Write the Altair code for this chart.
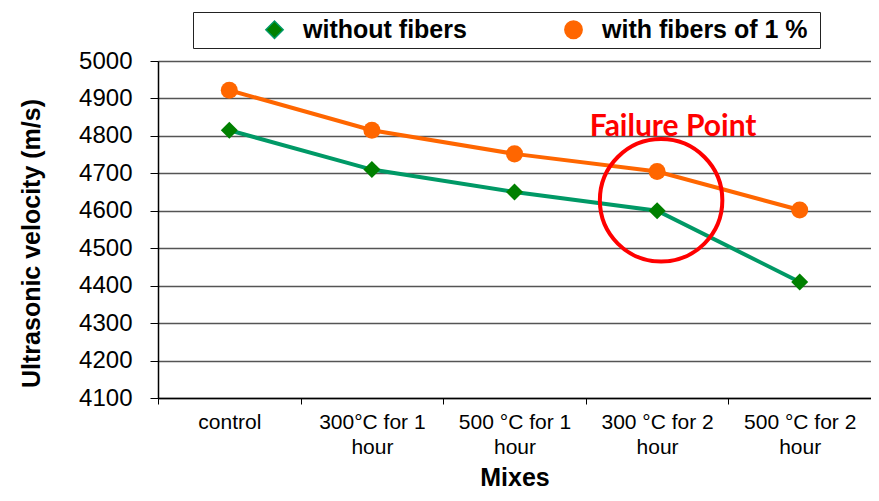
import altair as alt
import pandas as pd

# ---- data ----
categories = ["control", "300°C  for 1\nhour", "500 °C  for 1\nhour",
              "300 °C for 2\nhour", "500 °C  for 2\nhour"]
series = ["without fibers", "with fibers  of 1 %"]
without_fibers = [4815, 4710, 4650, 4600, 4410]
with_fibers = [4922, 4815, 4752, 4705, 4602]
y_ticks = [4100, 4200, 4300, 4400, 4500, 4600, 4700, 4800, 4900, 5000]

line_colors = ["#009966", "#FF6600"]
marker_colors = ["#008000", "#FF6600"]
marker_shapes = ["diamond", "circle"]

annot_x = ["300 °C for 2\nhour"]
annot_circle_y = [4628]
annot_text_y = [4800]
annot_text = ["Failure Point"]

rows = []
for name, vals in zip(series, [without_fibers, with_fibers]):
    for c, v in zip(categories, vals):
        rows.append({"mix": c, "velocity": v, "series": name})
df = pd.DataFrame(rows)
circle_df = pd.DataFrame({"mix": annot_x, "velocity": annot_circle_y})
text_df = pd.DataFrame({"mix": annot_x, "velocity": annot_text_y, "label": annot_text})

FONT = "Liberation Sans"

x_enc = alt.X(
    "mix:N",
    bandPosition=0.5,
    scale=alt.Scale(type="band", domain=categories, paddingInner=0, paddingOuter=0),
    axis=alt.Axis(
        title="Mixes", labelAngle=0, tickBand="extent", grid=False,
        labelExpr="split(datum.label, '\\n')",
        labelFont=FONT, labelFontSize=21, labelLineHeight=25,
        labelPadding=7, labelColor="black", labelLimit=300,
        tickSize=6, tickColor="black", tickWidth=1,
        domainColor="black", domainWidth=1.5,
        titleFont=FONT, titleFontSize=25, titleFontWeight="bold",
        titleColor="black", titlePadding=8,
    ),
)
y_enc = alt.Y(
    "velocity:Q",
    scale=alt.Scale(domain=[4100, 5000], zero=False, nice=False),
    axis=alt.Axis(
        values=y_ticks, title="Ultrasonic velocity (m/s)", format="d",
        labelFont=FONT, labelFontSize=24, labelColor="black", labelPadding=18,
        tickSize=8, tickColor="black", tickWidth=1,
        domainColor="black", domainWidth=1.5,
        grid=True, gridColor="#555555", gridWidth=1.5,
        titleFont=FONT, titleFontSize=25, titleFontWeight="bold",
        titleColor="black", titlePadding=34, titleY=182,
    ),
)

nbsp = "\u00a0" * 6
legend = alt.Legend(
    title=None, orient="none", legendX=35, legendY=-49, direction="horizontal",
    strokeColor="#222222", fillColor="white", padding=5,
    symbolSize=300, symbolOffset=64, labelOffset=16, columnPadding=30,
    labelFont=FONT, labelFontSize=25, labelFontWeight="bold", labelColor="black",
    labelLimit=500,
    labelExpr=f"datum.value === '{series[1]}' ? datum.label + '{nbsp}' : datum.label",
)

lines = alt.Chart(df).mark_line(strokeWidth=4).encode(
    x=x_enc, y=y_enc,
    color=alt.Color("series:N", scale=alt.Scale(domain=series, range=line_colors),
                    legend=legend),
)
pts = alt.Chart(df).mark_point(filled=True, size=290, opacity=1).encode(
    x=x_enc, y=y_enc,
    fill=alt.Fill("series:N", scale=alt.Scale(domain=series, range=marker_colors), legend=None),
    shape=alt.Shape("series:N", scale=alt.Scale(domain=series, range=marker_shapes), legend=None),
)
circle = alt.Chart(circle_df).mark_point(
    shape="circle", filled=False, size=15000, strokeWidth=4, color="#FF0000",
    opacity=1, xOffset=4
).encode(x=x_enc, y=y_enc)
text = alt.Chart(text_df).mark_text(
    font="Lato", fontSize=30, fontWeight="bold", color="#FF0000",
    dx=16, baseline="alphabetic", align="center"
).encode(x=x_enc, y=y_enc, text="label:N")

chart = alt.layer(lines, pts, circle, text).properties(
    width=713, height=337,
    autosize=alt.AutoSizeParams(type="none"),
    padding={"left": 150, "top": 53, "right": 0, "bottom": 92},
    background="white",
).configure_view(stroke=None)

chart.save("out.html", embed_options={"renderer": "svg", "actions": False})
